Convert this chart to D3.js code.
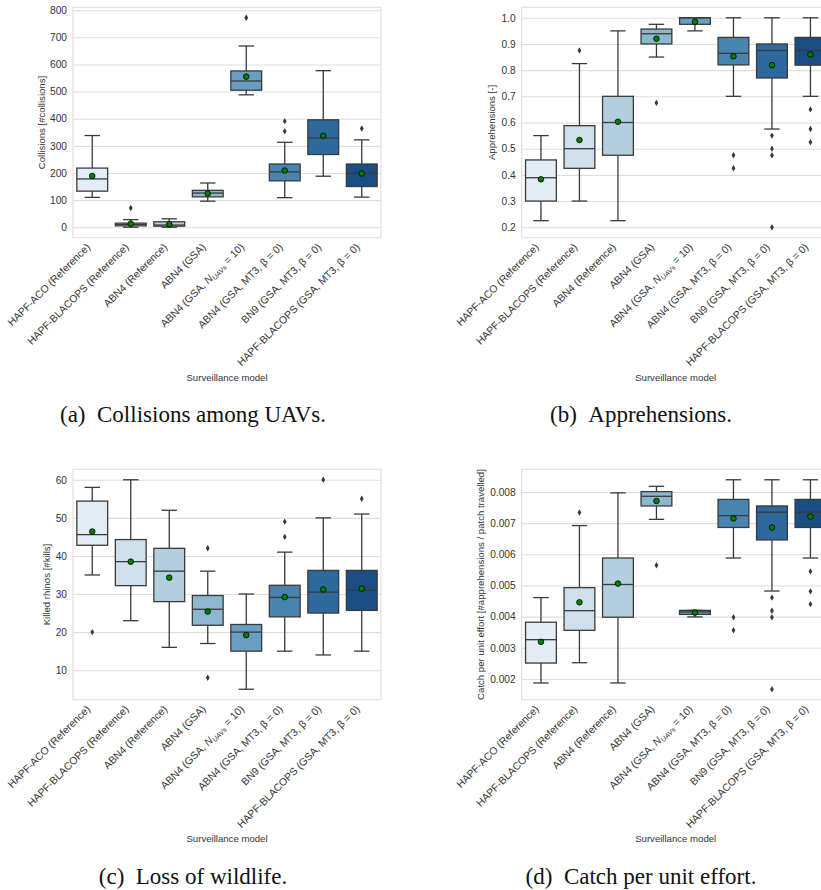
<!DOCTYPE html>
<html>
<head>
<meta charset="utf-8">
<script src="https://cdn.jsdelivr.net/npm/d3@7"></script>
<style>
  body { margin: 0; background: #fff; }
  svg { display: block; }
</style>
</head>
<body>
<svg id="fig" width="821" height="890"></svg>
<script>
// Surveillance models compared in every panel
const models = [
  "HAPF-ACO (Reference)",
  "HAPF-BLACOPS (Reference)",
  "ABN4 (Reference)",
  "ABN4 (GSA)",
  "ABN4 (GSA, N_UAVs = 10)",
  "ABN4 (GSA, MT3, β = 0)",
  "BN9 (GSA, MT3, β = 0)",
  "HAPF-BLACOPS (GSA, MT3, β = 0)"
];

// matplotlib "Blues" sampled at 8 evenly spaced points
const bluesPalette = ["#e1edf8", "#cbdff1", "#abd0e6", "#82badb", "#59a2cf", "#3787c0", "#1b6aaf", "#084d97"];

// Each row: [lower whisker, Q1, median, Q3, upper whisker, mean]
const collisions = [
  [110, 133, 178, 218, 338, 189],
  [0, 5, 10, 15, 28, 13],
  [0, 4, 8, 20, 31, 11],
  [96, 112, 126, 136, 163, 124],
  [488, 505, 539, 576, 668, 555],
  [109, 171, 204, 233, 313, 209],
  [188, 268, 329, 396, 577, 337],
  [111, 150, 199, 233, 322, 198]
];
const collisionsOutliers = [[], [71], [], [], [772], [391, 354], [], [364]];

const apprehensions = [
  [0.225, 0.300, 0.389, 0.457, 0.550, 0.383],
  [0.300, 0.425, 0.500, 0.588, 0.825, 0.533],
  [0.225, 0.475, 0.600, 0.700, 0.950, 0.603],
  [0.850, 0.900, 0.939, 0.957, 0.975, 0.920],
  [0.950, 0.975, 1.000, 1.000, 1.000, 0.985],
  [0.700, 0.820, 0.864, 0.925, 1.000, 0.853],
  [0.575, 0.770, 0.875, 0.900, 1.000, 0.819],
  [0.700, 0.819, 0.875, 0.925, 1.000, 0.860]
];
const apprehensionsOutliers = [[], [0.875], [], [0.675], [], [0.475, 0.425], [0.55, 0.5, 0.475, 0.2], [0.65, 0.575, 0.525]];

const kills = [
  [35, 42.8, 45.6, 54.4, 58, 46.4],
  [23, 32.2, 38.5, 44.3, 60, 38.5],
  [16, 28, 36, 42, 52, 34.3],
  [17, 21.8, 26, 29.6, 36, 25.4],
  [5, 15, 20, 22, 30, 19.2],
  [15, 24, 29.1, 32.3, 41, 29.2],
  [14, 25, 30.5, 36.2, 50, 31.2],
  [15, 25.7, 31, 36.2, 51, 31.4]
];
const killsOutliers = [[20], [], [], [42, 8], [], [49, 45], [60], [55]];

const cpue = [
  [0.00187, 0.00251, 0.00326, 0.00382, 0.00461, 0.00319],
  [0.00252, 0.00356, 0.00419, 0.00493, 0.00692, 0.00446],
  [0.00187, 0.00398, 0.00503, 0.00588, 0.00797, 0.00506],
  [0.00712, 0.00755, 0.00786, 0.00801, 0.00818, 0.00771],
  [0.00399, 0.00407, 0.00415, 0.00420, 0.00420, 0.00413],
  [0.00588, 0.00686, 0.00724, 0.00776, 0.00839, 0.00715],
  [0.00482, 0.00646, 0.00735, 0.00755, 0.00839, 0.00686],
  [0.00588, 0.00686, 0.00735, 0.00776, 0.00839, 0.00721]
];
const cpueOutliers = [[], [0.00734], [], [0.00565], [], [0.00398, 0.00356], [0.00461, 0.00419, 0.00398, 0.00167], [0.00545, 0.00481, 0.00440]];

// Tick values for each y axis
const collisionsTicks = [0, 100, 200, 300, 400, 500, 600, 700, 800];
const apprehensionsTicks = [0.2, 0.3, 0.4, 0.5, 0.6, 0.7, 0.8, 0.9, 1.0];
const killsTicks = [10, 20, 30, 40, 50, 60];
const cpueTicks = [0.002, 0.003, 0.004, 0.005, 0.006, 0.007, 0.008];

const captions = ["(a)\u2002Collisions among UAVs.", "(b)\u2002Apprehensions.", "(c)\u2002Loss of wildlife.", "(d)\u2002Catch per unit effort."];

// ---- drawing ----
const svg = d3.select("#fig");
const sansFont = "'Liberation Sans', Arial, Helvetica, sans-serif";
const serifFont = "'Liberation Serif', 'Times New Roman', serif";
const gridColor = "#dedede";
const lineGray = "#3a3a3a";

// desaturate each palette colour like seaborn's default boxplot saturation
const boxColors = bluesPalette.map(c => { const h = d3.hsl(c); h.s *= 0.75; return h.formatHex(); });

const plotW = 308, plotH = 230.4;

const panels = [
  { x: 73, y: 7.3, stats: collisions, out: collisionsOutliers, ticks: collisionsTicks, fmt: d3.format("d"),
    ylabel: "Collisions [#collisions]", ylabelX: 41, caption: captions[0], capX: 193, capY: 414, xlabelY: 377 },
  { x: 521.7, y: 7.3, stats: apprehensions, out: apprehensionsOutliers, ticks: apprehensionsTicks, fmt: d3.format(".1f"),
    ylabel: "Apprehensions [-]", ylabelX: 491.7, caption: captions[1], capX: 641, capY: 414, xlabelY: 377 },
  { x: 73, y: 469.3, stats: kills, out: killsOutliers, ticks: killsTicks, fmt: d3.format("d"),
    ylabel: "Killed rhinos [#kills]", ylabelX: 46.7, caption: captions[2], capX: 193, capY: 876, xlabelY: 838 },
  { x: 521.7, y: 469.3, stats: cpue, out: cpueOutliers, ticks: cpueTicks, fmt: d3.format(".3f"),
    ylabel: "Catch per unit effort [#apprehensions / patch travelled]", ylabelX: 480.7, caption: captions[3], capX: 641, capY: 876, xlabelY: 838 }
];

function writeModel(sel, name) {
  const parts = name.split("N_UAVs");
  if (parts.length === 1) { sel.text(name); return; }
  sel.append("tspan").text(parts[0]);
  sel.append("tspan").attr("font-style", "italic").text("N");
  sel.append("tspan").attr("font-style", "italic").attr("font-size", "7px").attr("dy", 2).text("UAVs");
  sel.append("tspan").attr("dy", -2).text(parts[1]);
}

panels.forEach(p => {
  const g = svg.append("g").attr("transform", `translate(${p.x},${p.y})`);

  // y domain with 5% margins around the full data extent
  const lo = d3.min(p.stats.map((s, i) => d3.min([s[0], ...p.out[i]])));
  const hi = d3.max(p.stats.map((s, i) => d3.max([s[4], ...p.out[i]])));
  const pad = (hi - lo) * 0.05;
  const y = d3.scaleLinear().domain([lo - pad, hi + pad]).range([plotH, 0]);
  const x = d3.scaleBand().domain(models).range([0, plotW]).padding(0);
  const bw = x.bandwidth() * 0.8;

  // grid lines and tick labels
  const yAxis = d3.axisLeft(y).tickValues(p.ticks).tickFormat(p.fmt).tickSize(-plotW).tickPadding(6);
  const ya = g.append("g").call(yAxis);
  ya.select(".domain").remove();
  ya.selectAll(".tick line").attr("stroke", gridColor).attr("stroke-width", 1.1);
  ya.selectAll(".tick text").attr("fill", "#333").attr("font-family", sansFont).attr("font-size", "10.2px");

  // frame
  g.append("rect").attr("x", 0).attr("y", 0).attr("width", plotW).attr("height", plotH)
    .attr("fill", "none").attr("stroke", gridColor).attr("stroke-width", 1.1);

  // boxes
  p.stats.forEach((s, i) => {
    const cx = x(models[i]) + x.bandwidth() / 2;
    const [wLo, q1, med, q3, wHi, mean] = s;
    const bg = g.append("g");
    // whiskers
    bg.append("line").attr("x1", cx).attr("x2", cx).attr("y1", y(q3)).attr("y2", y(wHi))
      .attr("stroke", lineGray).attr("stroke-width", 1.3);
    bg.append("line").attr("x1", cx).attr("x2", cx).attr("y1", y(q1)).attr("y2", y(wLo))
      .attr("stroke", lineGray).attr("stroke-width", 1.3);
    // caps
    [wLo, wHi].forEach(v => {
      bg.append("line").attr("x1", cx - bw / 4).attr("x2", cx + bw / 4).attr("y1", y(v)).attr("y2", y(v))
        .attr("stroke", lineGray).attr("stroke-width", 1.3);
    });
    // box
    bg.append("rect").attr("x", cx - bw / 2).attr("width", bw)
      .attr("y", y(q3)).attr("height", Math.max(0.5, y(q1) - y(q3)))
      .attr("fill", boxColors[i]).attr("stroke", lineGray).attr("stroke-width", 1.3);
    // median
    bg.append("line").attr("x1", cx - bw / 2).attr("x2", cx + bw / 2).attr("y1", y(med)).attr("y2", y(med))
      .attr("stroke", lineGray).attr("stroke-width", 1.3);
    // outliers (thin diamonds)
    p.out[i].forEach(v => {
      const yy = y(v);
      bg.append("path").attr("d", `M${cx},${yy - 3.2}L${cx + 1.9},${yy}L${cx},${yy + 3.2}L${cx - 1.9},${yy}Z`)
        .attr("fill", lineGray);
    });
    // mean
    bg.append("circle").attr("cx", cx).attr("cy", y(mean)).attr("r", 2.8)
      .attr("fill", "#008000").attr("stroke", "#000").attr("stroke-width", 0.8);
  });

  // rotated category labels
  models.forEach(m => {
    const cx = x(m) + x.bandwidth() / 2;
    const t = g.append("text")
      .attr("transform", `translate(${cx - 1.4},${plotH + 10}) rotate(-45)`)
      .attr("text-anchor", "end").attr("font-family", sansFont).attr("font-size", "10.4px").attr("fill", "#333");
    writeModel(t, m);
  });

  // y axis label
  svg.append("text")
    .attr("transform", `translate(${p.ylabelX},${p.y + plotH / 2}) rotate(-90)`)
    .attr("text-anchor", "middle").attr("dominant-baseline", "central")
    .attr("font-family", sansFont).attr("font-size", "9.6px").attr("fill", "#333")
    .text(p.ylabel);

  // x axis label
  svg.append("text").attr("x", p.x + 154).attr("y", p.xlabelY)
    .attr("text-anchor", "middle").attr("dominant-baseline", "central")
    .attr("font-family", sansFont).attr("font-size", "9.6px").attr("fill", "#333")
    .text("Surveillance model");

  // caption
  svg.append("text").attr("x", p.capX).attr("y", p.capY)
    .attr("text-anchor", "middle").attr("dominant-baseline", "central")
    .attr("font-family", serifFont).attr("font-size", "23px").attr("fill", "#111")
    .text(p.caption);
});
</script>
</body>
</html>
